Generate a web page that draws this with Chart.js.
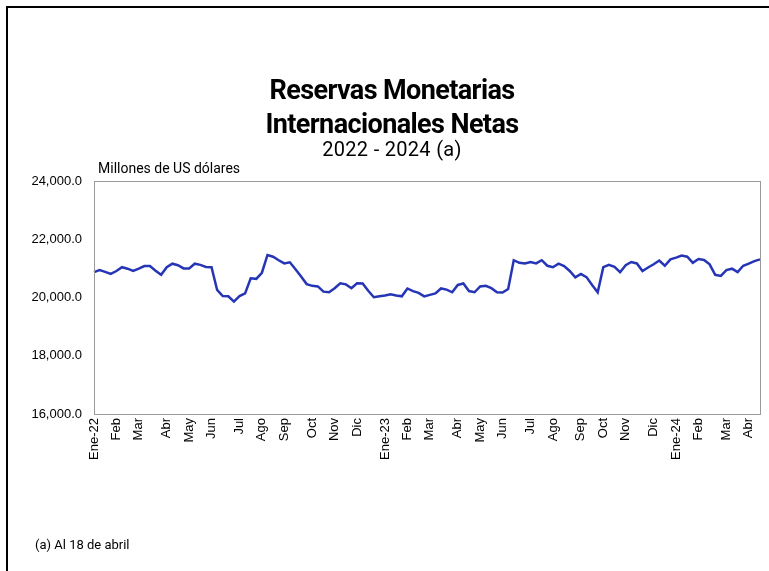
<!DOCTYPE html>
<html>
<head>
<meta charset="utf-8">
<script src="https://cdn.jsdelivr.net/npm/chart.js@4.4.1/dist/chart.umd.min.js"></script>
<style>
  html, body { margin: 0; padding: 0; background: #fff; }
  #wrap { position: relative; width: 769px; height: 571px; overflow: hidden; font-family: Roboto, "Noto Sans", sans-serif; color: #000; }
  #frame { position: absolute; left: 6px; top: 6px; width: 900px; height: 900px; border-left: 2px solid #000; border-top: 2px solid #000; }
  #chart { position: absolute; left: 0; top: 0; }
  .txt { position: absolute; white-space: nowrap; }
  #title { left: 0; width: 784px; top: 73px; text-align: center; font-weight: 700; font-size: 27px; line-height: 34px; letter-spacing: -0.6px; }
  #sub { left: 0; width: 784px; top: 137px; text-align: center; font-size: 20px; letter-spacing: 0.3px; }
  #unit { left: 98px; top: 160px; font-size: 14px; }
  #note { left: 35px; top: 537px; font-size: 13px; }
</style>
</head>
<body>
<div id="wrap">
  <div id="frame"></div>
  <canvas id="chart" width="769" height="571"></canvas>
  <div class="txt" id="title">Reservas Monetarias<br>Internacionales Netas</div>
  <div class="txt" id="sub">2022 - 2024 (a)</div>
  <div class="txt" id="unit">Millones de US dólares</div>
  <div class="txt" id="note">(a) Al 18 de abril</div>
</div>
<script>
  // weekly series, first week 6 Jan 2022, last week 18 Apr 2024
  const firstWeek = '2022-01-06';
  const monthNames = ['Ene', 'Feb', 'Mar', 'Abr', 'May', 'Jun', 'Jul', 'Ago', 'Sep', 'Oct', 'Nov', 'Dic'];

  // millions of US dollars
  const rmin2022 = [
    20870, 20940, 20880, 20810, 20910, 21040, 20990, 20910, 20990, 21080,
    21080, 20920, 20780, 21040, 21160, 21110, 21000, 21000, 21160, 21120,
    21050, 21040, 20260, 20050, 20040, 19860, 20050, 20140, 20660, 20640,
    20850, 21460, 21400, 21280, 21170, 21210, 20970, 20720, 20460, 20400,
    20380, 20200, 20180, 20320, 20490, 20450, 20320, 20490, 20480, 20230,
    20010, 20040
  ];
  const rmin2023 = [
    20070, 20110, 20070, 20040, 20310, 20220, 20160, 20040, 20090, 20140,
    20310, 20270, 20180, 20430, 20480, 20220, 20180, 20380, 20400, 20320,
    20180, 20170, 20290, 21280, 21190, 21170, 21220, 21170, 21280, 21090,
    21040, 21160, 21080, 20910, 20690, 20810, 20700, 20430, 20180, 21040,
    21120, 21050, 20870, 21110, 21220, 21170, 20910, 21030, 21140, 21270,
    21090, 21310
  ];
  const rmin2024 = [
    21370, 21440, 21400, 21190, 21320, 21290, 21140, 20780, 20740, 20940,
    20990, 20870, 21090, 21160, 21250, 21310
  ];
  const values = rmin2022.concat(rmin2023, rmin2024);

  const yTicks = { min: 16000, max: 24000, step: 2000 };

  // one category per week; the first week of each month carries the month label
  const weekLabels = values.map((v, i) => {
    const d = new Date(firstWeek + 'T12:00:00');
    d.setDate(d.getDate() + 7 * i);
    if (d.getDate() > 7) return '';
    const m = d.getMonth();
    return m === 0 ? monthNames[0] + '-' + String(d.getFullYear()).slice(2) : monthNames[m];
  });

  const boxPlugin = {
    id: 'plotBox',
    afterDraw(chart) {
      const a = chart.chartArea, ctx = chart.ctx;
      ctx.save();
      ctx.strokeStyle = '#9a9a9a';
      ctx.lineWidth = 1;
      ctx.strokeRect(Math.round(a.left) + 0.5, Math.round(a.top) + 0.5,
        Math.round(a.right - a.left), Math.round(a.bottom - a.top));
      ctx.restore();
    }
  };

  new Chart(document.getElementById('chart'), {
    type: 'line',
    data: {
      labels: weekLabels,
      datasets: [{
        data: values,
        borderColor: '#2535b5',
        borderWidth: 2.5,
        pointRadius: 0,
        fill: false,
        tension: 0
      }]
    },
    options: {
      responsive: false,
      animation: false,
      layout: { padding: { left: 0, right: 9, top: 181, bottom: 0 } },
      plugins: { legend: { display: false }, tooltip: { enabled: false } },
      scales: {
        x: {
          type: 'category',
          offset: false,
          grid: { display: false, drawTicks: false },
          border: { display: false },
          afterFit(s) { s.height = 157; s.paddingLeft = 0; s.paddingRight = 0; },
          ticks: {
            autoSkip: false,
            maxRotation: 90,
            minRotation: 90,
            padding: 4,
            color: '#000',
            font: { family: '"Liberation Sans", Arial, sans-serif', size: 13 }
          }
        },
        y: {
          min: yTicks.min,
          max: yTicks.max,
          grid: { display: false, drawTicks: false },
          border: { display: false },
          afterFit(s) { s.width = 94; },
          ticks: {
            stepSize: yTicks.step,
            padding: 12,
            color: '#000',
            font: { family: '"Liberation Sans", Arial, sans-serif', size: 13 },
            callback: v => v.toLocaleString('en-US', { minimumFractionDigits: 1, maximumFractionDigits: 1 })
          }
        }
      }
    },
    plugins: [boxPlugin]
  });
</script>
</body>
</html>
